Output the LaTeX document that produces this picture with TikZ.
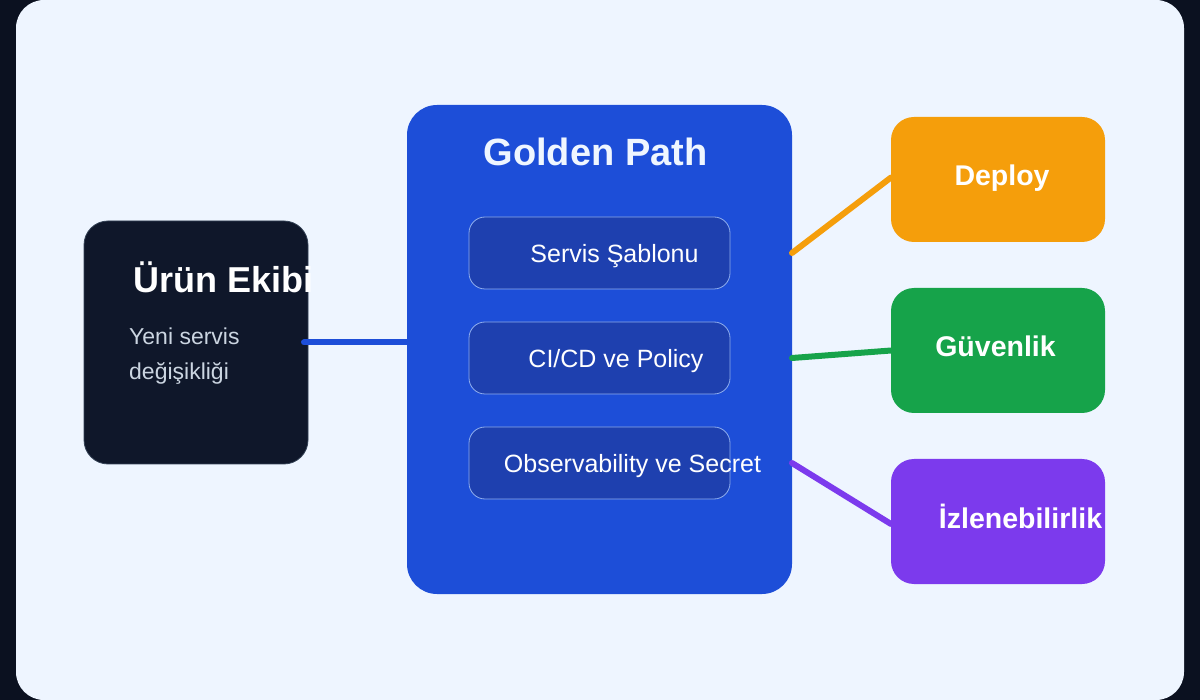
\documentclass[tikz,border=0pt]{standalone}
\usepackage{fontspec}
\setmainfont{Liberation Sans}
\usetikzlibrary{positioning}

\definecolor{frameDark}{HTML}{0B1120}
\definecolor{panelBg}{HTML}{EEF5FF}
\definecolor{teamFill}{HTML}{0F172A}
\definecolor{teamLine}{HTML}{334155}
\definecolor{teamSub}{HTML}{CBD5E1}
\definecolor{pathBlue}{HTML}{1D4ED8}
\definecolor{itemFill}{HTML}{1E40AF}
\definecolor{itemLine}{HTML}{8FAEEE}
\definecolor{titleWhite}{HTML}{EFF6FF}
\definecolor{deployOrange}{HTML}{F59E0B}
\definecolor{secGreen}{HTML}{16A34A}
\definecolor{obsPurple}{HTML}{7C3AED}

\begin{document}
\begin{tikzpicture}[x=1pt,y=-1pt,
  card/.style={inner sep=0pt,outer sep=0pt},
  item/.style={card,draw=itemLine,line width=0.8pt,fill=itemFill,
    rounded corners=16pt,minimum width=261pt,minimum height=72pt},
  itemtext/.style={anchor=base,inner sep=0pt,text=white,
    font=\fontsize{25}{30}\selectfont},
  side/.style={card,rounded corners=23pt,minimum width=214pt,minimum height=125pt},
  sidetext/.style={anchor=base,inner sep=0pt,text=white,
    font=\bfseries\fontsize{28.5}{34}\selectfont},
  link/.style={line width=6pt,line cap=round}]

\newcommand\MX{599.5}
\newcommand\RX{998}

  %% frame
  \fill[frameDark] (0,0) rectangle (1200,700);
  \fill[panelBg,rounded corners=28pt] (16,0) rectangle (1184,700);
  \useasboundingbox (0,0) rectangle (1200,700);

  %% team
  \node[card,fill=teamFill,draw=teamLine,line width=0.8pt,rounded corners=24pt,
    minimum width=224pt,minimum height=243pt] (team) at (196,342.5) {};
  \node[anchor=base west,inner sep=0pt,text=white,
    font=\bfseries\fontsize{36}{40}\selectfont] (teamT) at (133,293) {Ürün Ekibi};
  \node[anchor=base west,inner sep=0pt,text=teamSub,
    font=\fontsize{23}{28}\selectfont] (teamS1) at (129,345) {Yeni servis};
  \node[anchor=base west,inner sep=0pt,text=teamSub,
    font=\fontsize{23}{28}\selectfont] (teamS2) at (129,380) {değişikliği};

  %% golden path
  \node[card,fill=pathBlue,rounded corners=30pt,
    minimum width=385pt,minimum height=489pt] (path) at (\MX,349.5) {};
  \node[anchor=base,inner sep=0pt,text=titleWhite,
    font=\bfseries\fontsize{38}{44}\selectfont] (pathT) at (595.5,166) {Golden Path};

  \node[item] (sablon) at (\MX,253) {};
  \node[item] (cicd)   at (\MX,358) {};
  \node[item] (obs)    at (\MX,463) {};

  %% right column
  \node[side,fill=deployOrange] (deploy) at (\RX,179.5) {};
  \node[side,fill=secGreen]     (guven)  at (\RX,350.5) {};
  \node[side,fill=obsPurple]    (izle)   at (\RX,521.5) {};

  %% links
  \draw[link,pathBlue] ([xshift=-4pt]team.east) -- (path.west |- team.east);
  \draw[link,deployOrange] (path.east |- sablon) -- ([yshift=2pt]deploy.west);
  \draw[link,secGreen] (path.east |- cicd) -- (guven.west);
  \draw[link,obsPurple] (path.east |- obs) -- ([yshift=-2.5pt]izle.west);

  %% texts
  \node[itemtext] (sablonT) at (614.5,263) {Servis Şablonu};
  \node[itemtext] (cicdT)   at (616,368)   {CI/CD ve Policy};
  \node[itemtext] (obsT)    at (632.5,472) {Observability ve Secret};

  \node[sidetext] (deployT) at (1002,186)   {Deploy};
  \node[sidetext] (guvenT)  at (995.5,357)  {Güvenlik};
  \node[sidetext] (izleT)   at (1020.5,529) {İzlenebilirlik};

\end{tikzpicture}
\end{document}
